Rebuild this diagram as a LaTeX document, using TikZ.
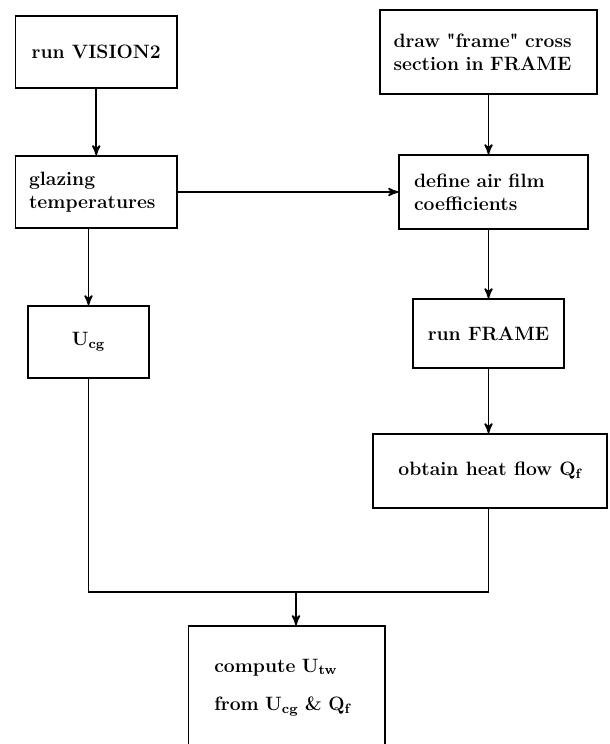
\documentclass[tikz,border=0pt]{standalone}
\usepackage{tikz}
\usetikzlibrary{positioning, arrows}
\tikzset{
>=stealth', % arrow heads of the connectors
block/.style={draw, align=left, inner sep=0pt, font=\bfseries\fontsize{11}{13}\selectfont}, % every box of the chart
}

\begin{document}
\begin{tikzpicture}[x=0.02cm, y=-0.02cm, line width=1pt]
    \useasboundingbox (0,0) rectangle (609,744);
    \node[block, minimum width=3.23cm, minimum height=1.44cm] (run) at (96.25,52) {run VISION2};
    \node[block, minimum width=3.23cm, minimum height=1.44cm, text width=2.69cm] (glz) at (96.25,192) {glazing\\temperatures};
    \node[block, minimum width=2.42cm, minimum height=1.44cm] (ucg) at (88.5,342) {U\textsubscript{cg}};
    \node[block, minimum width=4.34cm, minimum height=1.68cm, text width=3.8cm] (frm) at (488.5,52) {draw \textquotedbl frame\textquotedbl{} cross\\section in FRAME};
    \node[block, minimum width=3.78cm, minimum height=1.48cm, text width=3.18cm] (air) at (493.5,192) {define air film\\coefficients};
    \node[block, minimum width=3.02cm, minimum height=1.38cm] (runf) at (488.5,333.5) {run FRAME};
    \node[block, minimum width=4.68cm, minimum height=1.48cm] (heat) at (490,471) {obtain heat flow Q\textsubscript{f}};
    \node[block, minimum width=3.93cm, minimum height=2.46cm, text width=2.9cm] (comp) at (286.75,687.5) {compute U\textsubscript{tw}\\[9pt]from U\textsubscript{cg} \& Q\textsubscript{f}};
    \coordinate (join) at (296,592);
    \draw[->] (run) -- (glz);
    \draw[->] (glz) -- (air);
    \draw[->] (glz.south -| ucg) -- (ucg);
    \draw[->] (frm) -- (frm |- air.north);
    \draw[->] (runf |- air.south) -- (runf);
    \draw[->] (runf) -- (runf |- heat.north);
    \draw (ucg) |- (join);
    \draw (heat.south -| runf) |- (join);
    \draw[->] (join) -- (join |- comp.north);
\end{tikzpicture}
\end{document}
